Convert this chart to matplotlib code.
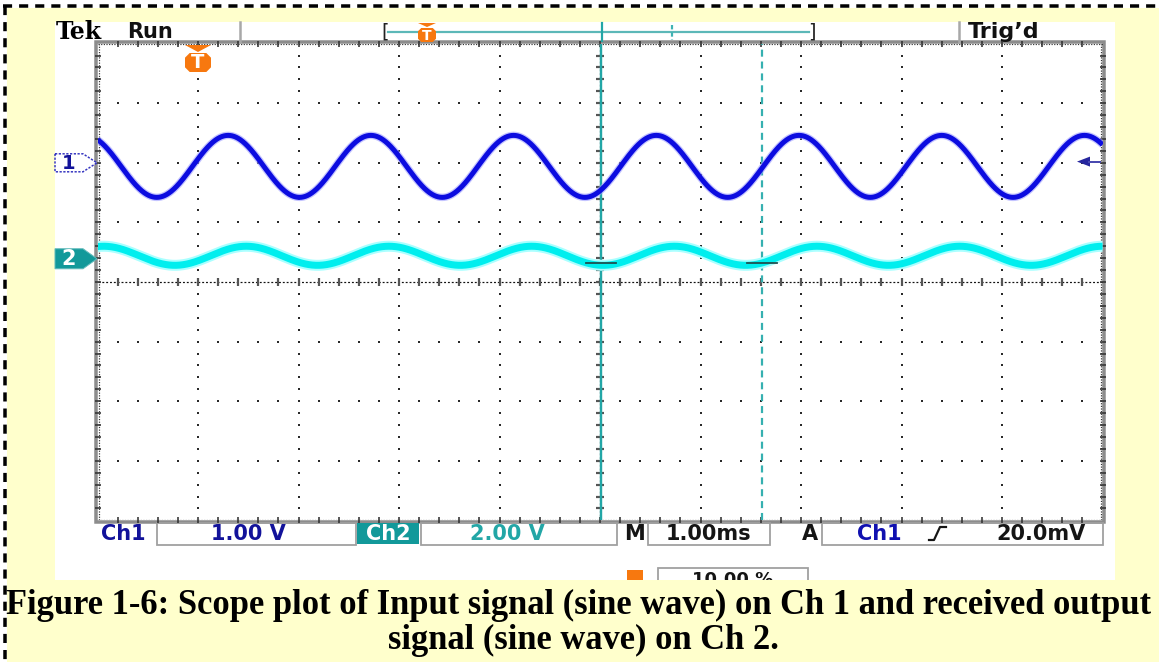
import numpy as np
import matplotlib
matplotlib.use("Agg")
import matplotlib.pyplot as plt
from matplotlib.patches import Rectangle, Polygon
from matplotlib.lines import Line2D

W, H, DPI = 1159, 662, 100

h_divisions = 10
v_divisions = 8
time_per_div_ms = 1.00
ch1_volts_per_div = 1.00
ch2_volts_per_div = 2.00
ch1_ground_div = 2.00
ch2_ground_div = 0.39
signal_period_ms = 1.42
ch1_amplitude_v = 0.52
ch1_offset_v = -0.06
ch1_first_peak_ms = 1.30
ch2_amplitude_v = 0.32
ch2_offset_v = 0.10
ch2_first_peak_ms = 1.48
cursor_times_ms = [5.01, 6.61]
cursor_level_div = 0.32
trigger_position_pct = 10.00
trigger_level_mv = 20.0

top_labels = ["Tek", "Run", "Trig\u2019d"]
bottom_labels = ["Ch1", "1.00 V", "Ch2", "2.00 V", "M", "1.00ms", "A", "Ch1", "20.0mV"]
caption_lines = ["Figure 1-6: Scope plot of Input signal (sine wave) on Ch 1 and received output",
                 "signal (sine wave) on Ch 2."]

# ---------------- colours ----------------
YELLOW = "#ffffcc"
CH1_COL = "#0c0ce0"
CH1_TXT = "#12129a"
CH2_COL = "#00eeee"
TEAL = "#12999a"
CURSOR = "#22a6a6"
ORANGE = "#f7780f"
FRAME = "#8c8c8c"


def px(v):
    return v * 72.0 / DPI


fig = plt.figure(figsize=(W / DPI, H / DPI), dpi=DPI)
fig.patch.set_facecolor("white")

deco = fig.add_axes([0, 0, 1, 1], zorder=0)
deco.set_xlim(0, W)
deco.set_ylim(H, 0)
deco.axis("off")

# page background + dashed border
deco.add_patch(Rectangle((7, 8), W, H, facecolor=YELLOW, edgecolor="none", zorder=0))
deco.add_line(Line2D([4.5, 4.5], [6, H + 5], color="black", lw=px(3.5),
                     linestyle=(0, (2.6, 2.0)), zorder=1))
deco.add_line(Line2D([3, W + 5], [6, 6], color="black", lw=px(3.5),
                     linestyle=(0, (2.6, 2.0)), zorder=1))

# white screen area
deco.add_patch(Rectangle((55, 22), 1115 - 55, 580 - 22, facecolor="white", edgecolor="none", zorder=1))

# graticule geometry (pixels)
GX0, GX1, GY0, GY1 = 97.5, 1102.5, 43.6, 520.4

# frame
deco.add_patch(Rectangle((GX0 - 1.5, GY0 - 1.5), GX1 - GX0 + 3, GY1 - GY0 + 3,
                         facecolor="none", edgecolor=FRAME, lw=px(3.5), zorder=2))

# ---- top status bar ----
deco.add_line(Line2D([239.5, 239.5], [22, 42], color="#a8a8a8", lw=px(2.5), zorder=2))
deco.add_line(Line2D([958.5, 958.5], [22, 42], color="#a8a8a8", lw=px(2.5), zorder=2))
deco.text(56, 39, top_labels[0], family="DejaVu Serif", weight="bold", fontsize=17,
          color="black", va="baseline", ha="left", zorder=3)
deco.text(127, 38, top_labels[1], family="DejaVu Sans", weight="bold", fontsize=15,
          color="#111111", va="baseline", ha="left", zorder=3)
deco.text(968, 38, top_labels[2], family="DejaVu Sans", weight="bold", fontsize=16,
          color="#111111", va="baseline", ha="left", zorder=3)

# record-length bar
deco.text(385, 32, "[", family="DejaVu Sans", fontsize=14, color="#222222",
          va="center", ha="center", zorder=3)
deco.text(812, 32, "]", family="DejaVu Sans", fontsize=14, color="#222222",
          va="center", ha="center", zorder=3)
deco.add_line(Line2D([388, 809], [32, 32], color="#5cb8b8", lw=px(2.2), zorder=2))
deco.add_line(Line2D([601.5, 601.5], [23, 41], color=CURSOR, lw=px(2.2), zorder=3))
deco.add_line(Line2D([672, 672], [25, 40], color="#3fb3b3", lw=px(2.2),
                     linestyle=(0, (2, 1.3)), zorder=3))


def orange_t(ax, cx, ytop, w, tri_h, box_h, fs):
    ax.add_patch(Polygon([[cx - w / 2, ytop], [cx + w / 2, ytop], [cx, ytop + tri_h]],
                         closed=True, facecolor=ORANGE, edgecolor="none", zorder=4))
    y0 = ytop + tri_h + 1
    c = w * 0.18
    ax.add_patch(Polygon([[cx - w / 2, y0 + c], [cx - w / 2 + c, y0], [cx + w / 2 - c, y0],
                          [cx + w / 2, y0 + c], [cx + w / 2, y0 + box_h - c],
                          [cx + w / 2 - c, y0 + box_h], [cx - w / 2 + c, y0 + box_h],
                          [cx - w / 2, y0 + box_h - c]],
                         closed=True, facecolor=ORANGE, edgecolor="none", zorder=4))
    ax.text(cx, y0 + box_h / 2 + 0.5, "T", color="white", weight="bold", fontsize=fs,
            family="DejaVu Sans", ha="center", va="center", zorder=5)


orange_t(deco, 427, 23, 18, 4, 14, 10)

# ---- bottom status bar ----
BY = 533.5
box_kw = dict(facecolor="none", edgecolor="#a0a0a0", lw=px(1.8), zorder=2)
deco.add_patch(Rectangle((157, 522.5), 199, 22, **box_kw))
deco.add_patch(Rectangle((421, 522.5), 196, 22, **box_kw))
deco.add_patch(Rectangle((648, 522.5), 122, 22, **box_kw))
deco.add_patch(Rectangle((822, 522.5), 281, 22, **box_kw))
deco.add_patch(Rectangle((357, 522.5), 62, 21, facecolor=TEAL, edgecolor="none", zorder=2))

tkw = dict(family="DejaVu Sans", weight="bold", fontsize=15, va="center", ha="center", zorder=3)
deco.text(123, BY, bottom_labels[0], color=CH1_TXT, **tkw)
deco.text(248, BY, bottom_labels[1], color=CH1_TXT, **tkw)
deco.text(388, BY, bottom_labels[2], color="white", **tkw)
deco.text(507, BY, bottom_labels[3], color="#22a6a6", **tkw)
deco.text(634, BY, bottom_labels[4], color="#151515", **tkw)
deco.text(709, BY, bottom_labels[5], color="#151515", **tkw)
deco.text(810, BY, bottom_labels[6], color="#151515", **tkw)
deco.text(879, BY, bottom_labels[7], color="#1010b0", **tkw)
deco.text(1041, BY, bottom_labels[8], color="#151515", **tkw)
# rising-slope symbol
deco.add_line(Line2D([929, 934, 940, 946], [540, 540, 527, 527], color="#151515",
                     lw=px(2.2), zorder=3))

# trigger-position readout (partly hidden by the caption band)
deco.add_patch(Rectangle((658, 568), 150, 24, **box_kw))
deco.add_patch(Rectangle((627, 570), 16, 14, facecolor=ORANGE, edgecolor="none", zorder=3))
deco.text(733, 571, f"{trigger_position_pct:.2f} %", color="#151515",
          family="DejaVu Sans", weight="bold", fontsize=13, va="top", ha="center", zorder=3)

# caption band covers the lower part of the screen capture
deco.add_patch(Rectangle((50, 580), 1080, 90, facecolor=YELLOW, edgecolor="none", zorder=5))

cap_kw = dict(family="Liberation Serif", weight="bold", color="black",
              ha="center", va="center", zorder=6)
t1 = deco.text(578.5, 605, caption_lines[0], fontsize=19, **cap_kw)
t2 = deco.text(583, 640, caption_lines[1], fontsize=19, **cap_kw)
renderer = fig.canvas.get_renderer()
w1 = t1.get_window_extent(renderer).width
fs = 19 * 1145.0 / w1
t1.set_fontsize(fs)
t2.set_fontsize(fs)

# ---------------- scope graticule and traces ----------------
ax = fig.add_axes([GX0 / W, 1 - GY1 / H, (GX1 - GX0) / W, (GY1 - GY0) / H], zorder=1)
ax.set_xlim(0, h_divisions)
ax.set_ylim(-v_divisions / 2, v_divisions / 2)
ax.axis("off")
ax.patch.set_alpha(0)

minor = 0.2
xs_minor = np.arange(minor, h_divisions, minor)
ys_minor = np.arange(-v_divisions / 2 + minor, v_divisions / 2, minor)
dot_kw = dict(ls="none", marker="s", ms=px(2.2), mew=0, color="#2a2a2a", zorder=1)
for gx in range(1, h_divisions):
    if gx == h_divisions // 2:
        continue
    ax.plot(np.full_like(ys_minor, gx), ys_minor, **dot_kw)
for gy in range(-v_divisions // 2 + 1, v_divisions // 2):
    if gy == 0:
        continue
    ax.plot(xs_minor, np.full_like(xs_minor, gy), **dot_kw)

# centre lines with minor ticks
cx = h_divisions / 2
ax.plot([0, h_divisions], [0, 0], color="#111111", lw=px(1.2), ls=(0, (1.6, 1.6)), zorder=1)
ax.plot([cx, cx], [-4, 4], color="#111111", lw=px(1.2), ls=(0, (1.6, 1.6)), zorder=1)
ax.plot(xs_minor, np.zeros_like(xs_minor), ls="none", marker="|", ms=px(8), mew=px(2.2),
        color="#555555", zorder=1)
ax.plot(np.full_like(ys_minor, cx), ys_minor, ls="none", marker="_", ms=px(8), mew=px(2.2),
        color="#555555", zorder=1)

# edge ticks
edge_kw = dict(ls="none", ms=px(6), mew=px(1.6), color="#333333", zorder=1, clip_on=False)
ax.plot(np.zeros_like(ys_minor), ys_minor, marker="_", **edge_kw)
ax.plot(np.full_like(ys_minor, h_divisions), ys_minor, marker="_", **edge_kw)
ax.plot(xs_minor, np.full_like(xs_minor, -4), marker="|", **edge_kw)
ax.plot(xs_minor, np.full_like(xs_minor, 4), marker="|", **edge_kw)
for xe in (0.012, h_divisions - 0.012):
    ax.plot([xe, xe], [-4, 4], color="#333333", lw=px(1.2), ls=(0, (1, 1.2)), zorder=1)
for ye in (-3.985, 3.985):
    ax.plot([0, h_divisions], [ye, ye], color="#333333", lw=px(1.2), ls=(0, (1, 1.2)), zorder=1)

# cursors
ax.plot([cursor_times_ms[0] / time_per_div_ms] * 2, [-4, 4], color=CURSOR, lw=px(2.4), zorder=2)
ax.plot([cursor_times_ms[1] / time_per_div_ms] * 2, [-4, 4], color="#35b0b0", lw=px(2.2),
        ls=(0, (3.2, 2.2)), zorder=2)

# traces
t = np.linspace(0, h_divisions * time_per_div_ms, 4001)
ch1_v = ch1_offset_v + ch1_amplitude_v * np.cos(2 * np.pi * (t - ch1_first_peak_ms) / signal_period_ms)
ch2_v = ch2_offset_v + ch2_amplitude_v * np.cos(2 * np.pi * (t - ch2_first_peak_ms) / signal_period_ms)
ch1_y = ch1_ground_div + ch1_v / ch1_volts_per_div
ch2_y = ch2_ground_div + ch2_v / ch2_volts_per_div
xt = t / time_per_div_ms

ax.plot(xt, ch2_y, color="#aaffff", lw=px(11), solid_capstyle="butt", zorder=3)
ax.plot(xt, ch2_y, color=CH2_COL, lw=px(7), solid_capstyle="butt", zorder=3)
ax.plot(xt, ch1_y, color="#9d9dff", lw=px(7.5), solid_capstyle="butt", alpha=0.6, zorder=4)
ax.plot(xt, ch1_y, color=CH1_COL, lw=px(5), solid_capstyle="butt", zorder=4)

# cursor cross marks
for ct in cursor_times_ms:
    ax.plot([ct / time_per_div_ms - 0.15, ct / time_per_div_ms + 0.15],
            [cursor_level_div] * 2, color="#1f5050", lw=px(1.8), zorder=5)

# ---------------- overlay markers ----------------
ov = fig.add_axes([0, 0, 1, 1], zorder=2)
ov.set_xlim(0, W)
ov.set_ylim(H, 0)
ov.axis("off")
ov.patch.set_alpha(0)


def y_px(div):
    return GY0 + (v_divisions / 2 - div) * (GY1 - GY0) / v_divisions


y1 = y_px(ch1_ground_div)
ov.add_patch(Polygon([[55, y1 - 9], [83, y1 - 9], [97, y1], [83, y1 + 9], [55, y1 + 9]],
                     closed=True, facecolor="white", edgecolor="#3535c0", lw=px(1.5),
                     linestyle=(0, (1.5, 1)), zorder=3))
ov.text(69, y1 + 0.5, "1", color=CH1_TXT, fontsize=14, weight="bold", family="DejaVu Sans",
        ha="center", va="center", zorder=4)
y2 = y_px(ch2_ground_div)
ov.add_patch(Polygon([[55, y2 - 10], [83, y2 - 10], [97, y2], [83, y2 + 10], [55, y2 + 10]],
                     closed=True, facecolor=TEAL, edgecolor="#5fbaba", lw=px(1), zorder=3))
ov.text(69, y2 + 0.5, "2", color="white", fontsize=15, weight="bold", family="DejaVu Sans",
        ha="center", va="center", zorder=4)

# trigger level arrow (right edge)
yt = y_px(ch1_ground_div + trigger_level_mv / 1000.0 / ch1_volts_per_div)
ov.add_patch(Polygon([[1077, yt], [1090, yt - 5], [1090, yt + 5]], closed=True,
                     facecolor="#26269e", edgecolor="none", zorder=3))
ov.add_line(Line2D([1089, 1100], [yt, yt], color="#4a4ab0", lw=px(2), zorder=3))

# trigger position marker (top of graticule)
trig_x = GX0 + trigger_position_pct / 100.0 * (GX1 - GX0)
orange_t(ov, trig_x, 45, 26, 7, 19, 14)

fig.savefig("out.png", dpi=DPI, facecolor=fig.get_facecolor())
